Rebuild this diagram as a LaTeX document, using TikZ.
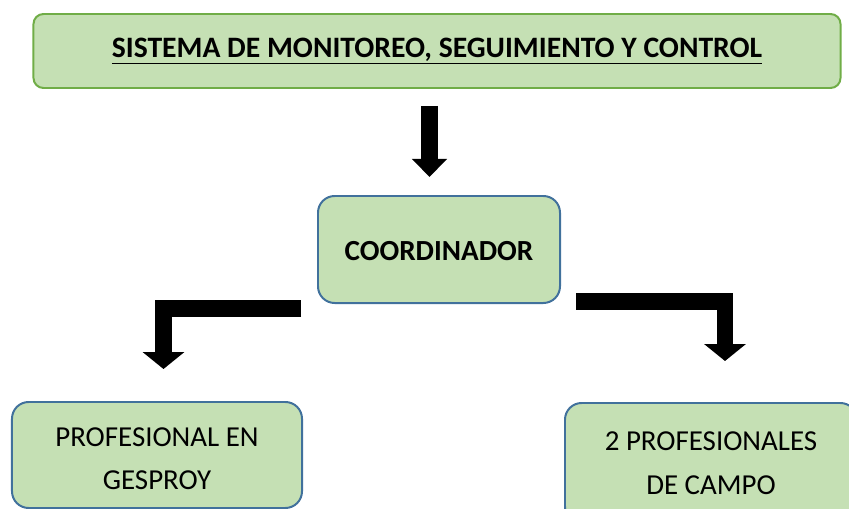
\documentclass[tikz,border=0pt]{standalone}
\usepackage{fontspec}
\setmainfont{Carlito}
\usetikzlibrary{arrows.meta,calc}
\definecolor{verde}{HTML}{C5E0B4}
\definecolor{bordeverde}{HTML}{70AD47}
\definecolor{bordeazul}{HTML}{41719C}
\tikzset
{
  caja/.style={draw=bordeazul,fill=verde,line width=1.7pt,rounded corners=0.5cm,align=center,inner sep=0pt},
  titulo/.style={caja,draw=bordeverde,rounded corners=0.3cm},
  flecha/.style={line width=14.5pt,-{Triangle[width=29pt,length=15.4pt]}},
  codo/.style={line width=13.7pt,line join=miter,-{Triangle[width=35pt,length=14.5pt]}}
}

\begin{document}
\begin{tikzpicture}[x=0.03cm,y=-0.03cm]
  % marco
  \useasboundingbox (0,0) rectangle (849,508);
  \clip (0,0) rectangle (849,508);
  % cajas
  \node (S) [titulo,minimum width=24.21cm,minimum height=2.22cm,font=\fontsize{25.3}{30}\selectfont\bfseries] at (437,51)
    {\underline{SISTEMA DE MONITOREO, SEGUIMIENTO Y CONTROL}};
  \node (C) [caja,minimum width=7.26cm,minimum height=3.21cm,font=\fontsize{24.9}{30}\selectfont\bfseries] at (439,249.5)
    {\rule{0pt}{19pt}COORDINADOR};
  \node (L) [caja,minimum width=8.7cm,minimum height=3.18cm,font=\fontsize{24.7}{36.7}\selectfont] at (157,455)
    {\rule{0pt}{23pt}PROFESIONAL EN\\GESPROY};
  \node (R) [caja,minimum width=8.76cm,minimum height=3.6cm,font=\fontsize{24.7}{37.5}\selectfont] at (711,463)
    {2 PROFESIONALES\\DE CAMPO};
  % puntos de las flechas
  \coordinate (a1) at ($(S.south)+(-7.5,17)$);
  \coordinate (a2) at ($(C.north)+(-9.5,-18)$);
  \coordinate (l1) at ($(C.south west)+(-16,4.5)$);
  \coordinate (l2) at ($(L.north)+(6.5,-32)$);
  \coordinate (r1) at ($(C.south east)+(15,-2.5)$);
  \coordinate (r2) at ($(R.north)+(14,-41)$);
  % flechas
  \draw[flecha] (a1) -- (a2);
  \draw[codo] (l1) -| (l2);
  \draw[codo] (r1) -| (r2);
\end{tikzpicture}
\end{document}
